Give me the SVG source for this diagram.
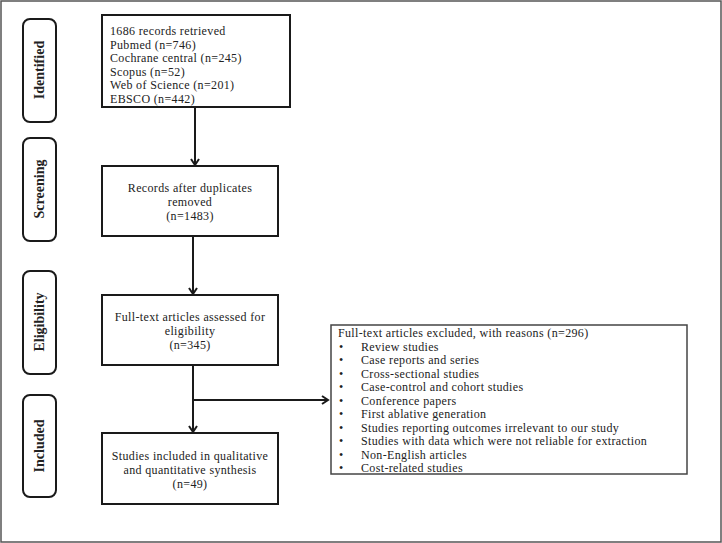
<svg xmlns="http://www.w3.org/2000/svg" width="722" height="543" viewBox="0 0 722 543">
<style>
.bg{fill:#ffffff}
.frame{fill:none;stroke:#555555;stroke-width:1.5}
.box{fill:#ffffff;stroke:#1a1a1a;stroke-width:2}
.box2{fill:#ffffff;stroke:#444444;stroke-width:1.5}
.phase{fill:#ffffff;stroke:#1a1a1a;stroke-width:2}
.t{font-family:"Liberation Serif","DejaVu Serif",serif;font-size:12px;letter-spacing:0.35px;fill:#222222}
.c{text-anchor:middle}
.ph{font-family:"Liberation Serif","DejaVu Serif",serif;font-size:14px;font-weight:bold;fill:#222222;text-anchor:middle}
.ln{fill:none;stroke:#1a1a1a;stroke-width:2}
</style>
<defs>
<marker id="arr" markerWidth="10" markerHeight="10" refX="8" refY="5" orient="auto" markerUnits="userSpaceOnUse">
<path d="M2,1 L8,5 L2,9" fill="none" stroke="#1a1a1a" stroke-width="2"/>
</marker>
</defs>
<rect class="bg" x="0" y="0" width="722" height="543"/>
<rect class="frame" x="1" y="1" width="720" height="541"/>

<g id="phase-identified">
<rect class="phase" x="23" y="19" width="33" height="103" rx="7"/>
<text class="ph" transform="translate(44,70) rotate(-90)">Identified</text>
</g>
<g id="phase-screening">
<rect class="phase" x="23" y="138" width="33" height="103" rx="7"/>
<text class="ph" transform="translate(44,189) rotate(-90)">Screening</text>
</g>
<g id="phase-eligibility">
<rect class="phase" x="23" y="271" width="33" height="103" rx="7"/>
<text class="ph" transform="translate(44,322) rotate(-90)">Eligibility</text>
</g>
<g id="phase-included">
<rect class="phase" x="23" y="395" width="33" height="102" rx="7"/>
<text class="ph" transform="translate(44,446) rotate(-90)">Included</text>
</g>

<g id="connectors">
<line class="ln" x1="195" y1="107" x2="195" y2="165" marker-end="url(#arr)"/>
<line class="ln" x1="193" y1="236" x2="193" y2="294" marker-end="url(#arr)"/>
<line class="ln" x1="193" y1="365" x2="193" y2="432" marker-end="url(#arr)"/>
<line class="ln" x1="193" y1="400" x2="328" y2="400" marker-end="url(#arr)"/>
</g>

<g id="node-identified">
<rect class="box" x="102" y="15" width="188" height="92"/>
<text class="t" x="110" y="35">1686 records retrieved</text>
<text class="t" x="110" y="48.5">Pubmed (n=746)</text>
<text class="t" x="110" y="62">Cochrane central (n=245)</text>
<text class="t" x="110" y="75.5">Scopus (n=52)</text>
<text class="t" x="110" y="89">Web of Science (n=201)</text>
<text class="t" x="110" y="102.5">EBSCO (n=442)</text>
</g>

<g id="node-screening">
<rect class="box" x="102" y="166" width="176" height="70"/>
<text class="t c" x="190" y="192">Records after duplicates</text>
<text class="t c" x="190" y="206">removed</text>
<text class="t c" x="190" y="220">(n=1483)</text>
</g>

<g id="node-eligibility">
<rect class="box" x="102" y="295" width="176" height="70"/>
<text class="t c" x="190" y="321">Full-text articles assessed for</text>
<text class="t c" x="190" y="335">eligibility</text>
<text class="t c" x="190" y="349">(n=345)</text>
</g>

<g id="node-included">
<rect class="box" x="102" y="433" width="176" height="71"/>
<text class="t c" x="190" y="460">Studies included in qualitative</text>
<text class="t c" x="190" y="474">and quantitative synthesis</text>
<text class="t c" x="190" y="488">(n=49)</text>
</g>

<g id="node-excluded">
<rect class="box2" x="331" y="325" width="356" height="149"/>
<text class="t" x="338" y="337">Full-text articles excluded, with reasons (n=296)</text>
<text class="t" x="339" y="350.5">•</text><text class="t" x="361" y="350.5">Review studies</text>
<text class="t" x="339" y="364">•</text><text class="t" x="361" y="364">Case reports and series</text>
<text class="t" x="339" y="377.5">•</text><text class="t" x="361" y="377.5">Cross-sectional studies</text>
<text class="t" x="339" y="391">•</text><text class="t" x="361" y="391">Case-control and cohort studies</text>
<text class="t" x="339" y="404.5">•</text><text class="t" x="361" y="404.5">Conference papers</text>
<text class="t" x="339" y="418">•</text><text class="t" x="361" y="418">First ablative generation</text>
<text class="t" x="339" y="431.5">•</text><text class="t" x="361" y="431.5">Studies reporting outcomes irrelevant to our study</text>
<text class="t" x="339" y="445">•</text><text class="t" x="361" y="445">Studies with data which were not reliable for extraction</text>
<text class="t" x="339" y="458.5">•</text><text class="t" x="361" y="458.5">Non-English articles</text>
<text class="t" x="339" y="472">•</text><text class="t" x="361" y="472">Cost-related studies</text>
</g>
</svg>
